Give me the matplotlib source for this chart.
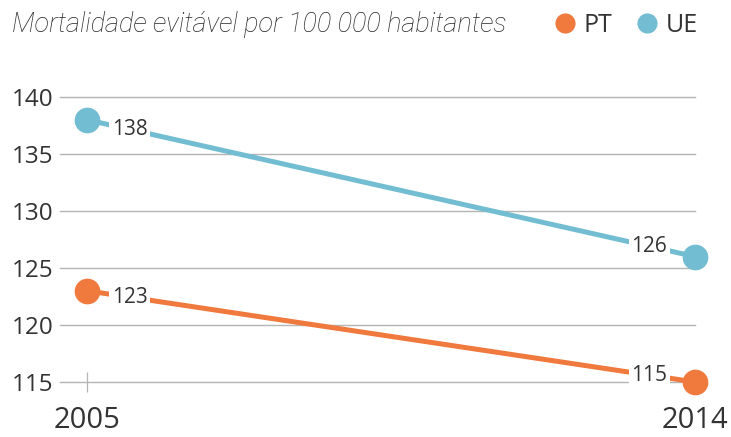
import matplotlib
matplotlib.use("Agg")
import matplotlib.pyplot as plt
from matplotlib.lines import Line2D
import numpy as np

# Avoidable mortality per 100 000 inhabitants
years = [2005, 2014]
series_names = ["PT", "UE"]
pt_values = [123, 115]
ue_values = [138, 126]
y_ticks = [115, 120, 125, 130, 135, 140]

colors = {"PT": "#F07A3E", "UE": "#72BDD1"}
text_color = "#333333"
grid_color = "#B5B5B5"
num_font = "Open Sans"

W, H = 731, 437
fig = plt.figure(figsize=(W / 100, H / 100), dpi=100)
fig.patch.set_facecolor("white")

# axes placed in pixel terms
left_px, right_px = 60, 695
top_px, bottom_px = 74.2, 382
ax = fig.add_axes([left_px / W, 1 - bottom_px / H,
                   (right_px - left_px) / W, (bottom_px - top_px) / H])
ax.set_xlim(2004.6, 2013.97)
ax.set_ylim(115, 142)
for s in ax.spines.values():
    s.set_visible(False)

for v in y_ticks:
    ax.axhline(v, color=grid_color, lw=1.0, zorder=1, clip_on=False)

ax.set_yticks(y_ticks)
ax.set_yticklabels([str(v) for v in y_ticks], fontsize=17.5,
                   color=text_color, fontfamily=num_font)
ax.tick_params(axis="y", length=0, pad=5)
ax.set_xticks(years)
ax.set_xticklabels([str(y) for y in years], fontsize=21,
                   color=text_color, fontfamily=num_font)
ax.tick_params(axis="x", direction="inout", length=15, width=0.9,
               color=grid_color, pad=10)

label_pos = [0.07, 0.925]
for name, vals in (("UE", ue_values), ("PT", pt_values)):
    c = colors[name]
    ax.plot(years, vals, color=c, lw=3.6, solid_capstyle="butt",
            zorder=3, clip_on=False)
    ax.plot(years, vals, "o", color=c, ms=18.5, mec="none",
            zorder=5, clip_on=False)
    for t, v in zip(label_pos, vals):
        lx = years[0] + t * (years[1] - years[0])
        ly = np.interp(lx, years, vals)
        ax.text(lx, ly, str(v), ha="center", va="center", fontsize=15,
                color=text_color, fontfamily=num_font, zorder=4,
                bbox=dict(boxstyle="square,pad=0.12", fc="white", ec="none"))

fig.text(12 / W, 1 - 25 / H, "Mortalidade evitável por 100 000 habitantes",
         ha="left", va="center", fontsize=19.5, color="#262626",
         fontfamily="Roboto", fontstyle="italic", fontweight="light")

handles = [Line2D([], [], ls="", marker="o", ms=14.5, mec="none",
                  color=colors[n]) for n in series_names]
fig.legend(handles, series_names, loc="center right",
           bbox_to_anchor=(698 / W, 1 - 25 / H), ncol=2, frameon=False,
           handlelength=0.8, handletextpad=0.35, columnspacing=1.0,
           borderaxespad=0, borderpad=0,
           prop={"family": num_font, "size": 18}, labelcolor=text_color)

fig.savefig("out.png", dpi=100, facecolor="white")
